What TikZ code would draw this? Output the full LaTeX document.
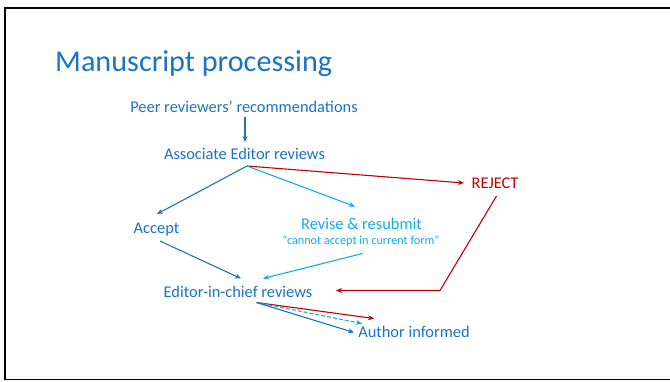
\documentclass[tikz,border=0pt]{standalone}
\usepackage{fontspec}
\setmainfont{Carlito}
\usetikzlibrary{arrows.meta}
\definecolor{dblue}{HTML}{1C72C4}
\definecolor{lblue}{HTML}{12ACEB}
\definecolor{rred}{HTML}{C00000}
\tikzset{
  lbl/.style={inner sep=0pt, font=\fontsize{16.4}{18}\selectfont},
  link/.style={line width=1.1pt, -{Stealth[length=6pt,width=5pt]}},
}
\begin{document}
\begin{tikzpicture}[x=1pt,y=-1pt]
\useasboundingbox (0,0) rectangle (670,381);
% slide frame
\draw[line width=2.5pt] (4,8) -- (670,8);
\draw[line width=2pt] (5,7) -- (5,380);
\draw[line width=1pt] (5,379.5) -- (670,379.5);

% title
\node[anchor=base west, inner sep=0pt, text=dblue, font=\fontsize{30.2}{34}\selectfont] (title) at (55,71) {Manuscript processing};

% stages
\node[lbl, text=dblue] (peer) at (244,107) {Peer reviewers’ recommendations};
\node[lbl, text=dblue] (ae) at (244.5,154) {Associate Editor reviews};
\node[lbl, text=rred] (reject) at (495,183) {REJECT};
\node[lbl, text=dblue] (accept) at (156.5,230) {Accept};
\node[lbl, text=lblue] (revise) at (361.5,224) {Revise \& resubmit};
\node[inner sep=0pt, text=lblue, font=\fontsize{12.2}{14}\selectfont] (revnote) at (361,241.5) {“cannot accept in current form”};
\node[lbl, text=dblue] (eic) at (238,292) {Editor-in-chief reviews};
\node[lbl, text=dblue] (author) at (414,332) {Author informed};

% connector end points
\coordinate (peerout) at (245,117);
\coordinate (aein) at (245,142);
\coordinate (aeout) at (247,166);
\coordinate (rejin) at (464,183);
\coordinate (accin) at (157,214);
\coordinate (revin) at (355,206.5);
\coordinate (accout) at (160,241);
\coordinate (eicinL) at (241,278.5);
\coordinate (revout) at (362.5,253.5);
\coordinate (eicinR) at (263,278.5);
\coordinate (rejout) at (496.5,196);
\coordinate (bend) at (440,290.5);
\coordinate (eicinE) at (336,290.5);
\coordinate (eicout) at (256.5,302.5);
\coordinate (authR) at (374,318.5);
\coordinate (authD) at (362,323.5);
\coordinate (authB) at (354,332.5);

% arrows
\draw[link, dblue] (peerout) -- (aein);
\draw[link, rred] (aeout) -- (rejin);
\draw[link, dblue] (aeout) -- (accin);
\draw[link, lblue] (aeout) -- (revin);
\draw[link, dblue] (accout) -- (eicinL);
\draw[link, lblue] (revout) -- (eicinR);
\draw[link, rred] (rejout) -- (bend) -- (eicinE);
\draw[link, rred] (eicout) -- (authR);
\draw[link, lblue, dashed, dash pattern=on 4pt off 2pt] (eicout) -- (authD);
\draw[link, dblue] (eicout) -- (authB);
\end{tikzpicture}
\end{document}
